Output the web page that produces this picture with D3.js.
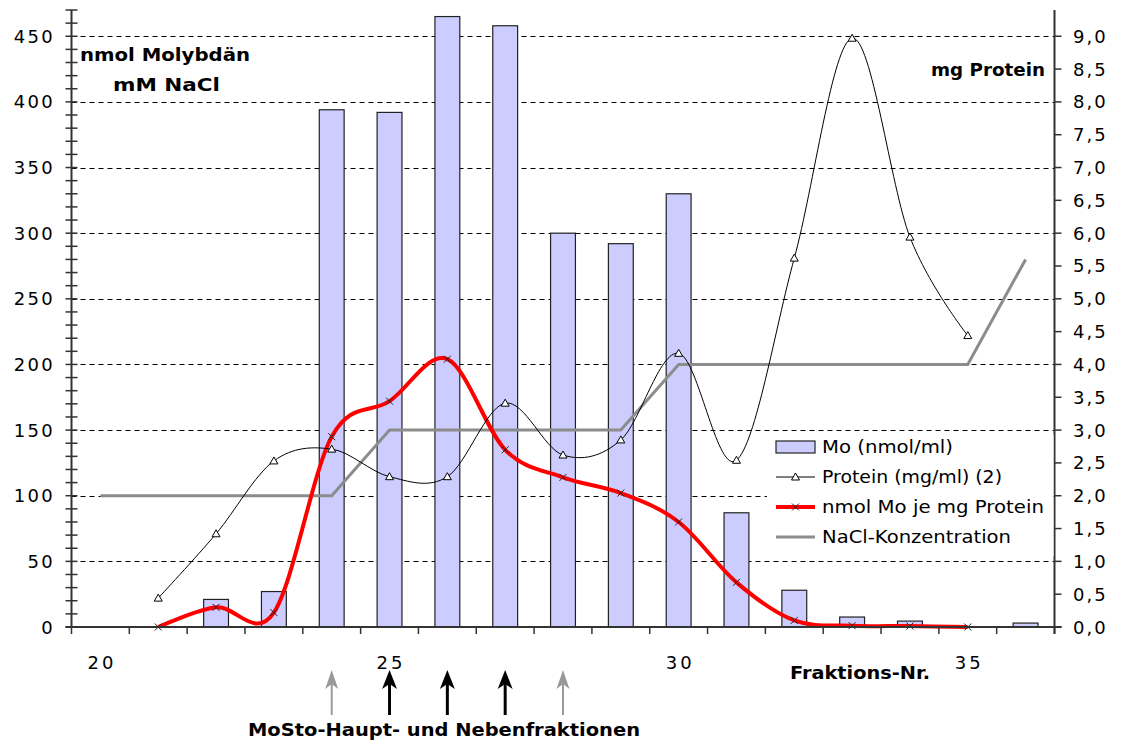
<!DOCTYPE html>
<html>
<head>
<meta charset="utf-8">
<script src="https://cdn.jsdelivr.net/npm/d3@7"></script>
<style>
  html, body { margin: 0; padding: 0; background: #fff; }
  svg { display: block; font-family: "DejaVu Sans", Verdana, sans-serif; }
</style>
</head>
<body>
<svg id="chart" width="1122" height="742"></svg>
<script>
// Fraction numbers on the category axis
const fractions = [20, 21, 22, 23, 24, 25, 26, 27, 28, 29, 30, 31, 32, 33, 34, 35, 36];
const xTickLabels = [20, 25, 30, 35];

// Molybdenum content per fraction (nmol/ml), left axis
const moNmolPerMl = [null, null, 21, 27, 394, 392, 465, 458, 300, 292, 330, 87, 28, 7.6, 4.5, null, 3];
// Protein per fraction (mg/ml), right axis
const proteinMgPerMl = [null, 0.44, 1.42, 2.53, 2.71, 2.29, 2.29, 3.41, 2.62, 2.85, 4.17, 2.54, 5.62, 8.97, 5.94, 4.44, null];
// Specific molybdenum (nmol Mo per mg protein), left axis
const moPerMgProtein = [null, 0, 15, 11, 145, 172, 204, 135, 114, 102, 80, 34, 5, 1, 0.7, 0, null];
// NaCl gradient (mM), left axis
const naclMM = [100, 100, 100, 100, 100, 150, 150, 150, 150, 150, 200, 200, 200, 200, 200, 200, 280];

// Axis ticks
const leftTickLabels = [0, 50, 100, 150, 200, 250, 300, 350, 400, 450];
const rightTickLabels = [0, 0.5, 1, 1.5, 2, 2.5, 3, 3.5, 4, 4.5, 5, 5.5, 6, 6.5, 7, 7.5, 8, 8.5, 9];

// Arrows below the axis: main fractions (black) and side fractions (grey)
const mainFractions = [25, 26, 27];
const sideFractions = [24, 28];

const legendItems = ["Mo (nmol/ml)", "Protein (mg/ml) (2)", "nmol Mo je mg Protein", "NaCl-Konzentration"];

const svg = d3.select("#chart");
const plot = { left: 71.5, right: 1054.5, top: 10, bottom: 627 };

const x = d3.scaleBand().domain(fractions).range([plot.left, plot.right]).paddingInner(0).paddingOuter(0);
const yL = d3.scaleLinear().domain([0, 470]).range([plot.bottom, plot.top]);
const yR = d3.scaleLinear().domain([0, 9.4]).range([plot.bottom, plot.top]);
const cx = f => x(f) + x.bandwidth() / 2;
const fmtR = d3.format(".1f");

// Dashed gridlines
svg.append("g").selectAll("line")
  .data(leftTickLabels.filter(v => v > 0))
  .join("line")
  .attr("x1", plot.left).attr("x2", plot.right)
  .attr("y1", d => Math.round(yL(d)) + 0.5).attr("y2", d => Math.round(yL(d)) + 0.5)
  .attr("stroke", "#000").attr("stroke-width", 1).attr("stroke-dasharray", "5,4");

// Bars
const barW = x.bandwidth() * 0.43;
svg.append("g").selectAll("rect")
  .data(fractions.map((f, i) => ({ f, v: moNmolPerMl[i] })).filter(d => d.v != null))
  .join("rect")
  .attr("x", d => cx(d.f) - barW / 2)
  .attr("width", barW)
  .attr("y", d => yL(d.v))
  .attr("height", d => yL(0) - yL(d.v))
  .attr("fill", "#ccccff").attr("stroke", "#222").attr("stroke-width", 1.2);

// Lines
const smooth = d3.curveCatmullRom.alpha(0);
const series = (vals) => fractions.map((f, i) => ({ f, v: vals[i] })).filter(d => d.v != null);

svg.append("path")
  .datum(series(naclMM))
  .attr("d", d3.line().x(d => cx(d.f)).y(d => yL(d.v)))
  .attr("fill", "none").attr("stroke", "#8c8c8c").attr("stroke-width", 3);

svg.append("path")
  .datum(series(moPerMgProtein))
  .attr("d", d3.line().curve(smooth).x(d => cx(d.f)).y(d => yL(d.v)))
  .attr("fill", "none").attr("stroke", "#ff0000").attr("stroke-width", 4).attr("stroke-linejoin", "round");

svg.append("path")
  .datum(series(proteinMgPerMl))
  .attr("d", d3.line().curve(smooth).x(d => cx(d.f)).y(d => yR(d.v)))
  .attr("fill", "none").attr("stroke", "#000").attr("stroke-width", 1);

// Markers
const cross = (g, px, py) => {
  g.append("path").attr("d", `M${px - 3.5},${py - 3.5}L${px + 3.5},${py + 3.5}M${px - 3.5},${py + 3.5}L${px + 3.5},${py - 3.5}`)
    .attr("stroke", "#222").attr("stroke-width", 1);
};
const tri = (g, px, py) => {
  g.append("path").attr("d", `M${px},${py - 4}L${px + 4},${py + 3}L${px - 4},${py + 3}Z`)
    .attr("fill", "#fff").attr("stroke", "#000").attr("stroke-width", 1);
};
const mk = svg.append("g");
series(moPerMgProtein).forEach(d => cross(mk, cx(d.f), yL(d.v)));
series(proteinMgPerMl).forEach(d => tri(mk, cx(d.f), yR(d.v)));

// Axes
const axisCol = "#333";
svg.append("line").attr("x1", plot.left).attr("x2", plot.left).attr("y1", plot.top).attr("y2", plot.bottom)
  .attr("stroke", axisCol).attr("stroke-width", 2);
svg.append("line").attr("x1", plot.right).attr("x2", plot.right).attr("y1", plot.top).attr("y2", plot.bottom + 7)
  .attr("stroke", axisCol).attr("stroke-width", 2);
svg.append("line").attr("x1", plot.left - 6).attr("x2", plot.right + 7).attr("y1", plot.bottom).attr("y2", plot.bottom)
  .attr("stroke", axisCol).attr("stroke-width", 2);

// Left axis: ticks every 10 crossing the axis line
svg.append("g").selectAll("line")
  .data(d3.range(0, 471, 10))
  .join("line")
  .attr("x1", plot.left - 6).attr("x2", plot.left + 6)
  .attr("y1", d => yL(d)).attr("y2", d => yL(d))
  .attr("stroke", axisCol).attr("stroke-width", 1.5);
svg.append("g").selectAll("text")
  .data(leftTickLabels)
  .join("text")
  .attr("x", 55).attr("y", d => yL(d) + 6.5)
  .attr("text-anchor", "end")
  .attr("font-size", 18).attr("letter-spacing", 2.3)
  .text(d => d);

// Right axis: ticks every 0.5 on the outside
svg.append("g").selectAll("line")
  .data(rightTickLabels)
  .join("line")
  .attr("x1", plot.right).attr("x2", plot.right + 7)
  .attr("y1", d => yR(d)).attr("y2", d => yR(d))
  .attr("stroke", axisCol).attr("stroke-width", 1.5);
svg.append("g").selectAll("text")
  .data(rightTickLabels)
  .join("text")
  .attr("x", 1073).attr("y", d => yR(d) + 6.5)
  .attr("font-size", 18).attr("letter-spacing", 2)
  .text(d => fmtR(d).replace(".", ","));

// Category axis: ticks at band boundaries
svg.append("g").selectAll("line")
  .data(fractions.map(f => x(f)).concat([plot.right]))
  .join("line")
  .attr("x1", d => d).attr("x2", d => d)
  .attr("y1", plot.bottom).attr("y2", plot.bottom + 7)
  .attr("stroke", axisCol).attr("stroke-width", 1.5);
svg.append("g").selectAll("text")
  .data(xTickLabels)
  .join("text")
  .attr("x", d => cx(d) + 1.5).attr("y", 669)
  .attr("text-anchor", "middle")
  .attr("font-size", 18).attr("letter-spacing", 3)
  .text(d => d);

// Axis titles
svg.append("text").attr("x", 80).attr("y", 61).attr("font-size", 17).attr("font-weight", "bold")
  .attr("textLength", 170).attr("lengthAdjust", "spacingAndGlyphs").text("nmol Molybdän");
svg.append("text").attr("x", 113).attr("y", 91).attr("font-size", 17).attr("font-weight", "bold")
  .attr("textLength", 107).attr("lengthAdjust", "spacingAndGlyphs").text("mM NaCl");
svg.append("text").attr("x", 931).attr("y", 76).attr("font-size", 17).attr("font-weight", "bold")
  .attr("textLength", 114).attr("lengthAdjust", "spacingAndGlyphs").text("mg Protein");
svg.append("text").attr("x", 790).attr("y", 679).attr("font-size", 17).attr("font-weight", "bold")
  .attr("textLength", 140).attr("lengthAdjust", "spacingAndGlyphs").text("Fraktions-Nr.");
svg.append("text").attr("x", 248).attr("y", 736).attr("font-size", 17).attr("font-weight", "bold")
  .attr("textLength", 392).attr("lengthAdjust", "spacingAndGlyphs").text("MoSto-Haupt- und Nebenfraktionen");

// Arrows marking the fractions
const arrow = (f, col, shaftW, headW) => {
  const ax = cx(f);
  const g = svg.append("g");
  g.append("line").attr("x1", ax).attr("x2", ax).attr("y1", 684).attr("y2", 715)
    .attr("stroke", col).attr("stroke-width", shaftW);
  g.append("path").attr("d", `M${ax},670L${ax + headW / 2},689L${ax},684L${ax - headW / 2},689Z`)
    .attr("fill", col);
};
sideFractions.forEach(f => arrow(f, "#999", 2, 13));
mainFractions.forEach(f => arrow(f, "#000", 3, 15));

// Legend
const lg = svg.append("g");
lg.append("rect").attr("x", 767).attr("y", 435).attr("width", plot.right - 768).attr("height", 121).attr("fill", "#fff");
const rowY = [447, 477, 507, 537];
lg.append("rect").attr("x", 776).attr("y", rowY[0] - 6).attr("width", 39).attr("height", 12)
  .attr("fill", "#ccccff").attr("stroke", "#222").attr("stroke-width", 1.2);
lg.append("line").attr("x1", 776).attr("x2", 815).attr("y1", rowY[1]).attr("y2", rowY[1]).attr("stroke", "#000").attr("stroke-width", 1);
tri(lg, 795.5, rowY[1]);
lg.append("line").attr("x1", 776).attr("x2", 815).attr("y1", rowY[2]).attr("y2", rowY[2]).attr("stroke", "#ff0000").attr("stroke-width", 4);
cross(lg, 795.5, rowY[2]);
lg.append("line").attr("x1", 776).attr("x2", 815).attr("y1", rowY[3]).attr("y2", rowY[3]).attr("stroke", "#8c8c8c").attr("stroke-width", 3);
const legendWidths = [131, 180, 222, 189];
lg.selectAll("text.item")
  .data(legendItems)
  .join("text")
  .attr("class", "item")
  .attr("x", 822).attr("y", (d, i) => rowY[i] + 6)
  .attr("font-size", 17)
  .attr("textLength", (d, i) => legendWidths[i]).attr("lengthAdjust", "spacingAndGlyphs")
  .text(d => d);
</script>
</body>
</html>
